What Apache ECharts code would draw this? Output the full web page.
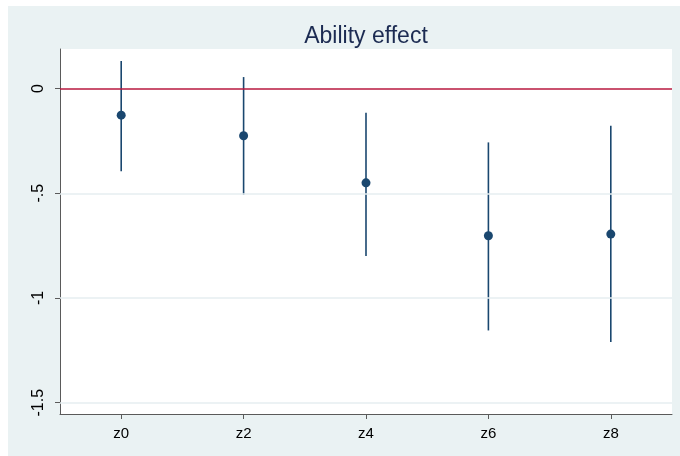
<!DOCTYPE html>
<html>
<head>
<meta charset="utf-8">
<script src="https://cdn.jsdelivr.net/npm/echarts@6/dist/echarts.min.js"></script>
<style>
  html, body { margin: 0; padding: 0; background: #ffffff; }
  #chart { width: 680px; height: 456px; }
</style>
</head>
<body>
<div id="chart"></div>
<script>
// Coefficient estimates with 95% confidence bounds, one per group
const categories = ['z0', 'z2', 'z4', 'z6', 'z8'];
const estimates  = [-0.127, -0.225, -0.450, -0.703, -0.695];
const lowerBound = [-0.395, -0.507, -0.800, -1.155, -1.210];
const upperBound = [ 0.132,  0.055, -0.115, -0.257, -0.178];
const yTicks     = [0, -0.5, -1, -1.5];
const gridValues = [-0.5, -1, -1.5];
const referenceValue = 0;

const navy = '#1A476F';
const bg = '#EAF2F3';
const font = 'Liberation Sans, Arial, sans-serif';

const chart = echarts.init(document.getElementById('chart'), null, { renderer: 'canvas' });

const intervals = categories.map((c, i) => [i, lowerBound[i], upperBound[i]]);

chart.setOption({
  animation: false,
  backgroundColor: '#ffffff',
  graphic: [{
    type: 'rect',
    z: -10,
    silent: true,
    shape: { x: 8, y: 6, width: 672, height: 450 },
    style: { fill: bg }
  }],
  title: {
    text: 'Ability effect',
    left: 361,
    top: 20,
    textAlign: 'center',
    textStyle: {
      fontFamily: font,
      fontSize: 23,
      fontWeight: 'normal',
      color: '#1C2B52'
    }
  },
  grid: {
    left: 60, right: 8, top: 49, bottom: 42,
    show: true,
    backgroundColor: '#ffffff',
    borderWidth: 0
  },
  xAxis: {
    type: 'category',
    data: categories,
    boundaryGap: true,
    axisLine: { show: true, onZero: false, lineStyle: { color: '#5a5a5a', width: 1 } },
    axisTick: { show: true, alignWithLabel: true, length: 5, lineStyle: { color: '#5a5a5a' } },
    axisLabel: {
      margin: 12,
      fontFamily: font,
      fontSize: 15,
      color: '#000000'
    },
    splitLine: { show: false }
  },
  yAxis: {
    type: 'value',
    min: -1.554,
    max: 0.189,
    axisLine: { show: true, onZero: false, lineStyle: { color: '#5a5a5a', width: 1 } },
    axisTick: { show: true, length: 5, customValues: yTicks, lineStyle: { color: '#5a5a5a' } },
    axisLabel: {
      customValues: yTicks,
      rotate: 90,
      margin: 13,
      fontFamily: font,
      fontSize: 16,
      color: '#000000',
      formatter: v => {
        if (v === 0) return '0';
        return String(v).replace('-0.', '-.');
      }
    },
    splitLine: { show: false }
  },
  series: [
    {
      // horizontal grid lines and the zero reference line
      type: 'line',
      data: [],
      silent: true,
      markLine: {
        silent: true,
        symbol: 'none',
        label: { show: false },
        animation: false,
        data: gridValues.map(v => ({ yAxis: v, lineStyle: { color: '#E6EEF0', width: 1.5, type: 'solid' } }))
          .concat([{ yAxis: referenceValue, lineStyle: { color: '#B8183F', width: 1.5, type: 'solid' } }])
      }
    },
    {
      type: 'custom',
      data: intervals,
      z: 3,
      renderItem: (params, api) => {
        const x = api.value(0);
        const top = api.coord([x, api.value(2)]);
        const bottom = api.coord([x, api.value(1)]);
        return {
          type: 'line',
          shape: { x1: top[0], y1: top[1], x2: bottom[0], y2: bottom[1] },
          style: { stroke: navy, lineWidth: 1.6 }
        };
      },
      encode: { x: 0, y: [1, 2] }
    },
    {
      type: 'scatter',
      data: estimates.map((v, i) => [i, v]),
      symbol: 'circle',
      symbolSize: 9,
      z: 4,
      itemStyle: { color: navy, opacity: 1 }
    }
  ]
});
</script>
</body>
</html>
